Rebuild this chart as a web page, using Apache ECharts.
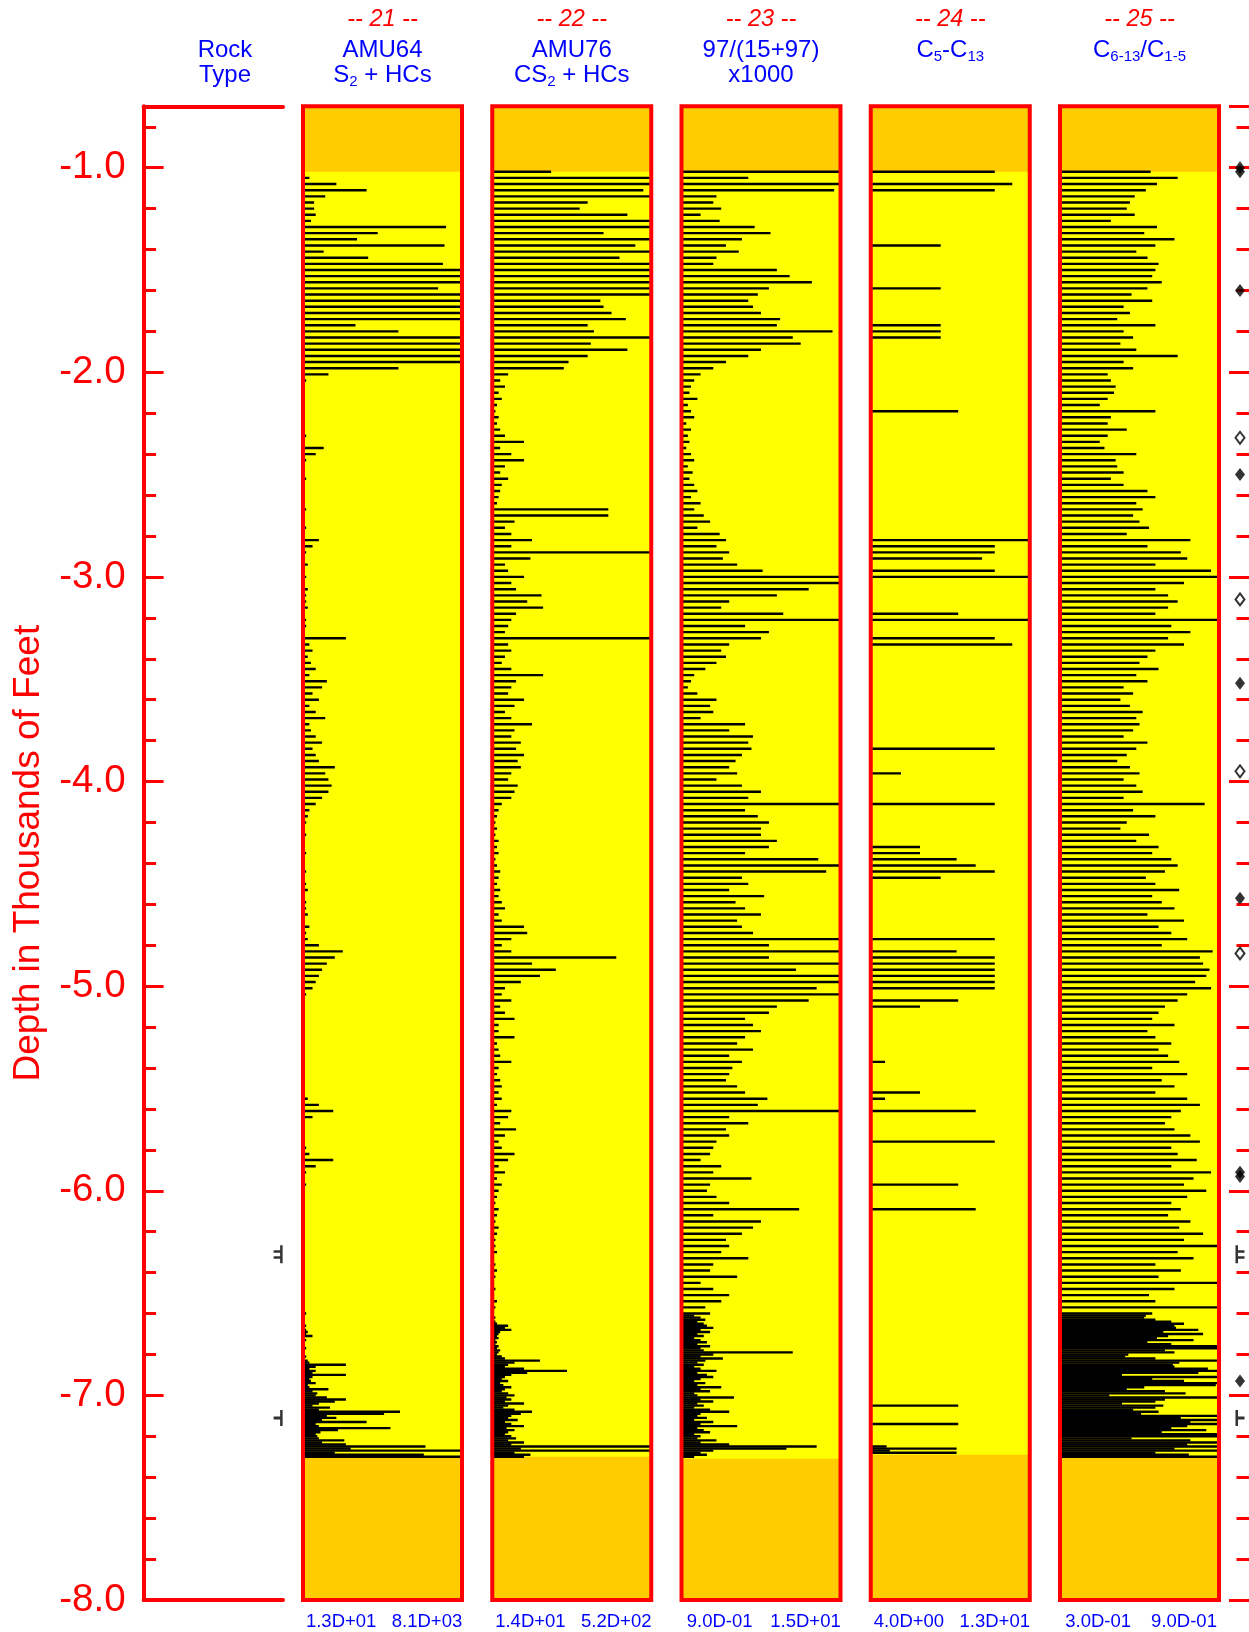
<!DOCTYPE html>
<html><head><meta charset="utf-8">
<script src="https://cdn.jsdelivr.net/npm/echarts@6/dist/echarts.min.js"></script>
<style>html,body{margin:0;padding:0;background:#fff}#c{width:1249px;height:1632px}</style>
</head><body><div id="c"></div>
<script>
// ---------------- DATA ----------------
// Sample depths (thousands of feet, negative = below surface)
const DEPTHS = [
-1.02,-1.05,-1.08,-1.11,-1.14,-1.17,-1.20,-1.23,-1.26,-1.29,
-1.32,-1.35,-1.38,-1.41,-1.44,-1.47,-1.50,-1.53,-1.56,-1.59,
-1.62,-1.65,-1.68,-1.71,-1.74,-1.77,-1.80,-1.83,-1.86,-1.89,
-1.92,-1.95,-1.98,-2.01,-2.04,-2.07,-2.10,-2.13,-2.16,-2.19,
-2.22,-2.25,-2.28,-2.31,-2.34,-2.37,-2.40,-2.43,-2.46,-2.49,
-2.52,-2.55,-2.58,-2.61,-2.64,-2.67,-2.70,-2.73,-2.76,-2.79,
-2.82,-2.85,-2.88,-2.91,-2.94,-2.97,-3.00,-3.03,-3.06,-3.09,
-3.12,-3.15,-3.18,-3.21,-3.24,-3.27,-3.30,-3.33,-3.36,-3.39,
-3.42,-3.45,-3.48,-3.51,-3.54,-3.57,-3.60,-3.63,-3.66,-3.69,
-3.72,-3.75,-3.78,-3.81,-3.84,-3.87,-3.90,-3.93,-3.96,-3.99,
-4.02,-4.05,-4.08,-4.11,-4.14,-4.17,-4.20,-4.23,-4.26,-4.29,
-4.32,-4.35,-4.38,-4.41,-4.44,-4.47,-4.50,-4.53,-4.56,-4.59,
-4.62,-4.65,-4.68,-4.71,-4.74,-4.77,-4.80,-4.83,-4.86,-4.89,
-4.92,-4.95,-4.98,-5.01,-5.04,-5.07,-5.10,-5.13,-5.16,-5.19,
-5.22,-5.25,-5.28,-5.31,-5.34,-5.37,-5.40,-5.43,-5.46,-5.49,
-5.52,-5.55,-5.58,-5.61,-5.64,-5.67,-5.70,-5.73,-5.76,-5.79,
-5.82,-5.85,-5.88,-5.91,-5.94,-5.97,-6.00,-6.03,-6.06,-6.09,
-6.12,-6.15,-6.18,-6.21,-6.24,-6.27,-6.30,-6.33,-6.36,-6.39,
-6.42,-6.45,-6.48,-6.51,-6.54,-6.57,-6.60,
-6.61,-6.62,-6.63,-6.64,-6.65,-6.66,-6.67,-6.68,-6.69,-6.70,
-6.71,-6.72,-6.73,-6.74,-6.75,-6.76,-6.77,-6.78,-6.79,-6.80,
-6.81,-6.82,-6.83,-6.84,-6.85,-6.86,-6.87,-6.88,-6.89,-6.90,
-6.91,-6.92,-6.93,-6.94,-6.95,-6.96,-6.97,-6.98,-6.99,-7.00,
-7.01,-7.02,-7.03,-7.04,-7.05,-7.06,-7.07,-7.08,-7.09,-7.10,
-7.11,-7.12,-7.13,-7.14,-7.15,-7.16,-7.17,-7.18,-7.19,-7.20,
-7.21,-7.22,-7.23,-7.24,-7.25,-7.26,-7.27,-7.28,-7.29,-7.30
];
// Track values, in percent of each track's scale (min label .. max label)
const T21 = [
1,4,21,40,14,7,7,8,5,90,
47,34,89,13,41,88,100,100,100,85,
99,100,100,100,100,33,60,100,100,100,
100,100,60,16,2,1,1,0,1,1,
1,0,1,2,1,13,8,2,1,1,
2,1,1,1,1,2,1,1,2,1,
10,6,2,1,3,1,2,1,3,2,
2,3,1,2,2,1,27,4,6,3,
5,8,4,15,12,6,10,4,8,14,
4,5,8,12,6,8,10,20,14,16,
18,16,12,8,4,3,2,1,2,1,
1,2,1,1,2,1,2,3,1,2,
2,3,1,4,2,3,10,25,20,15,
12,10,8,6,2,1,1,1,0,1,
1,1,0,1,1,1,0,1,1,1,
1,3,10,19,6,1,1,1,1,2,
4,19,8,2,1,2,1,1,1,0,
1,1,0,1,1,1,1,0,1,1,
1,1,1,0,1,1,2,
1,1,0,1,1,2,1,2,3,2,
6,1,2,1,1,1,2,1,1,1,
2,1,3,4,27,8,4,8,6,27,
6,4,5,8,3,4,16,6,9,8,
15,27,20,10,6,17,10,61,51,15,
21,12,40,8,10,55,22,11,8,9,
10,26,12,27,77,30,100,20,76,100
];
const T22 = [
37,100,100,95,100,60,55,85,100,100,
70,100,90,100,80,100,100,100,100,100,
100,68,70,75,84,60,64,100,62,85,
60,48,45,10,5,8,4,6,3,2,
4,3,5,8,20,5,12,20,8,5,
10,6,5,4,3,73,73,14,8,12,
25,12,100,24,8,10,20,12,15,31,
22,32,15,12,10,8,100,10,12,8,
6,12,32,15,12,10,20,14,8,12,
25,14,12,18,15,20,16,18,12,10,
16,14,12,6,4,3,2,3,2,4,
3,4,2,3,5,4,3,5,4,6,
8,4,6,20,22,12,6,12,78,25,
40,30,18,8,6,12,5,8,14,4,
4,14,3,4,5,12,4,3,5,6,
4,6,3,12,10,5,15,8,4,6,
14,10,4,8,3,6,4,3,2,4,
3,2,4,3,2,2,3,1,2,3,
2,1,2,1,3,2,1,
1,2,1,2,3,10,8,12,5,4,
3,4,2,3,2,4,3,5,4,3,
6,8,30,14,10,8,20,47,22,12,
8,6,10,5,7,12,8,6,10,14,
9,12,8,20,10,7,14,25,18,12,
10,16,8,12,20,9,14,10,8,12,
15,10,20,12,100,18,100,14,24,20
];
const T23 = [
100,42,100,96,22,20,25,12,24,46,
56,38,28,36,22,20,60,68,82,55,
48,42,45,50,62,60,95,70,75,50,
42,28,20,12,8,6,5,10,4,6,
8,3,6,4,5,3,6,8,4,7,
5,8,10,6,12,8,14,18,10,24,
28,22,30,26,35,51,100,100,80,60,
30,25,64,100,40,55,50,30,25,28,
22,15,8,6,4,10,22,18,20,12,
40,30,45,42,44,38,34,30,35,22,
38,50,42,100,40,48,55,50,50,60,
55,40,86,100,91,38,42,30,52,34,
40,50,35,38,45,100,55,100,55,100,
72,100,100,85,100,80,60,55,40,45,
50,40,35,45,30,38,32,30,28,35,
40,54,48,100,30,42,28,30,22,20,
18,12,25,20,44,18,16,22,30,74,
20,50,45,38,28,30,25,42,20,18,
35,12,20,30,25,15,18,
8,12,15,10,14,16,20,12,18,10,
14,8,12,16,10,18,12,14,70,20,
12,26,15,10,14,8,12,22,10,16,
20,12,8,15,10,25,12,18,8,10,
33,12,20,10,14,8,18,30,12,10,
16,8,20,12,35,10,14,18,8,12,
10,22,12,30,85,66,20,12,16,8
];
const T24 = [
78,0,89,78,0,0,0,0,0,0,
0,0,44,0,0,0,0,0,0,44,
0,0,0,0,0,44,44,44,0,0,
0,0,0,0,0,0,0,0,0,55,
0,0,0,0,0,0,0,0,0,0,
0,0,0,0,0,0,0,0,0,0,
100,78,78,70,0,78,100,0,0,0,
0,0,55,100,0,0,78,89,0,0,
0,0,0,0,0,0,0,0,0,0,
0,0,0,0,78,0,0,0,19,0,
0,0,0,78,0,0,0,0,0,0,
31,31,54,66,78,44,0,0,0,0,
0,0,0,0,0,78,0,54,78,78,
78,78,78,78,0,55,31,0,0,0,
0,0,0,0,0,9,0,0,0,0,
31,9,0,66,0,0,0,0,78,0,
0,0,0,0,0,55,0,0,0,66,
0,0,0,0,0,0,0,0,0,0,
0,0,0,0,0,0,0,
0,0,0,0,0,0,0,0,0,0,
0,0,0,0,0,0,0,0,0,0,
0,0,0,0,0,0,0,0,0,0,
0,0,0,0,0,0,0,0,0,0,
0,0,0,0,55,0,0,0,0,0,
0,0,0,55,0,0,0,0,0,0,
0,0,0,0,10,54,12,54,0,0
];
const T25 = [
57,74,61,54,47,44,42,47,32,61,
53,72,60,48,55,62,60,58,64,55,
45,58,40,44,36,60,40,46,38,48,
74,40,46,30,32,35,34,30,25,60,
32,30,42,30,25,28,48,35,36,40,
32,40,55,60,48,52,46,50,56,42,
82,55,76,80,60,95,100,78,60,68,
74,68,60,100,70,82,68,78,60,55,
50,62,48,55,40,46,38,44,52,48,
50,46,40,55,48,42,36,44,50,40,
48,52,40,91,46,60,42,38,56,48,
62,58,70,74,66,54,60,75,58,64,
72,55,78,62,70,80,64,96,88,90,
94,92,85,95,80,74,66,62,58,72,
55,60,70,62,68,75,58,80,64,72,
60,80,88,76,70,66,72,82,88,70,
74,86,70,95,84,78,92,80,70,76,
68,82,75,90,78,100,74,84,60,76,
62,100,72,56,60,100,58,
54,53,60,70,78,72,73,87,65,90,
68,61,84,55,70,100,100,66,72,43,
41,60,100,75,71,72,93,100,87,39,
100,58,78,100,98,53,42,66,79,31,
100,66,60,39,65,60,46,62,51,100,
76,100,82,100,80,70,92,64,100,100,
45,82,100,80,100,72,100,60,81,100
];
const TRACKS = [T21, T22, T23, T24, T25];
const TRACK_NUMBERS = ['-- 21 --', '-- 22 --', '-- 23 --', '-- 24 --', '-- 25 --'];
const TITLE_LINE1 = ['{m|AMU64}', '{m|AMU76}', '{m|97/(15+97)}', '{m|C}{s|5}{m|-C}{s|13}', '{m|C}{s|6-13}{m|/C}{s|1-5}'];
const TITLE_LINE2 = ['{m|S}{s|2}{m| + HCs}', '{m|CS}{s|2}{m| + HCs}', '{m|x1000}', '', ''];
const SCALE_LABELS = [['1.3D+01','8.1D+03'], ['1.4D+01','5.2D+02'], ['9.0D-01','1.5D+01'], ['4.0D+00','1.3D+01'], ['3.0D-01','9.0D-01']];
const YELLOW_TOP = [-1.02, -1.02, -1.02, -1.02, -1.02];
const YELLOW_BOTTOM = [-7.30, -7.30, -7.31, -7.29, -7.30];
const DEPTH_MIN = -8.0, DEPTH_MAX = -0.7;
const ROCK_MARKER_DEPTHS = [-6.31, -7.11];
const ROCK_MARKER_TYPES = ['double', 'single'];
const RIGHT_MARKER_DEPTHS = [-1.00, -1.02, -1.60, -2.32, -2.50, -3.11, -3.52, -3.95, -4.57, -4.84, -5.91, -5.93, -6.31, -6.93, -7.11];
const RIGHT_MARKER_TYPES = ['filled','filled','filled','hollow','filled','hollow','filled','hollow','filled','hollow','filled','filled','double','filled','single'];

// ---------------- LAYOUT ----------------
const FONT = '"Liberation Sans", Arial, Helvetica, sans-serif';
const RED = '#FF0000', BLUE = '#0000FF';
const GT = 106.3, GH = 1493.7;
const TRACK_LEFTS = [303, 492.25, 681.5, 870.75, 1060];
const TRACK_W = 159;
const BAR_H = 2.4;

const grids = [{left:143.6, top:GT, width:139.4, height:GH}];
TRACK_LEFTS.forEach(l => grids.push({left:l, top:GT, width:TRACK_W, height:GH, show:true, backgroundColor:'#FFCC00', borderWidth:0}));
grids.push({left:1237, top:GT, width:20, height:GH});

const lineAxis = (pos) => ({gridIndex:0, type:'value', min:0, max:1, position:pos,
  axisLine:{show:true, lineStyle:{color:RED, width:4}}, axisTick:{show:false}, axisLabel:{show:false}, splitLine:{show:false}, z:5});
const xAxes = [lineAxis('bottom'), lineAxis('top')];
TRACK_LEFTS.forEach((l, k) => xAxes.push({
  gridIndex:k+1, type:'value', min:0, max:100,
  axisLine:{show:false}, axisTick:{show:false}, splitLine:{show:false},
  axisLabel:{show:true, customValues:[24, 78], formatter:(v) => v < 50 ? SCALE_LABELS[k][0] : SCALE_LABELS[k][1],
    color:BLUE, fontSize:18.5, fontFamily:FONT, margin:12}
}));
xAxes.push({gridIndex:6, type:'value', min:0, max:1, show:false});

const depthAxis = (grid, pos, interval, len, showLine, labels) => ({
  gridIndex:grid, type:'value', min:DEPTH_MIN, max:DEPTH_MAX, interval:interval, position:pos,
  axisLine:{show:showLine, onZero:false, lineStyle:{color:RED, width:4}},
  axisTick:{show:true, inside:true, length:len, lineStyle:{color:RED, width:3}},
  axisLabel: labels ? {show:true, color:RED, fontSize:38.5, fontFamily:FONT, margin:18,
      formatter:(v) => Math.abs(v - Math.round(v)) < 1e-6 ? v.toFixed(1) : ''} : {show:false},
  splitLine:{show:false}, z:5
});
const yAxes = [
  depthAxis(0, 'left', 0.2, 12.5, true, false),
  Object.assign(depthAxis(0, 'left', 1, 20, false, true), {
    name:'Depth in Thousands of Feet', nameLocation:'middle', nameRotate:90, nameGap:96,
    nameTextStyle:{color:RED, fontSize:37, fontFamily:FONT}
  })
];
TRACK_LEFTS.forEach((l, k) => yAxes.push({gridIndex:k+1, type:'value', min:DEPTH_MIN, max:DEPTH_MAX, show:false}));
yAxes.push(depthAxis(6, 'right', 0.2, 12.5, false, false));
yAxes.push(depthAxis(6, 'right', 1, 20, false, false));

const series = [];
TRACKS.forEach((vals, k) => {
  series.push({
    type:'custom', xAxisIndex:k+2, yAxisIndex:k+2, silent:true, z:1,
    data:[[YELLOW_TOP[k], YELLOW_BOTTOM[k]]],
    renderItem:(p, api) => {
      const a = api.coord([0, api.value(0)]), b = api.coord([100, api.value(1)]);
      return {type:'rect', shape:{x:a[0], y:a[1], width:b[0]-a[0], height:b[1]-a[1]}, style:{fill:'#FFFF00'}};
    }
  });
  series.push({
    type:'custom', xAxisIndex:k+2, yAxisIndex:k+2, silent:true, z:2, clip:true,
    encode:{x:0, y:1},
    data:DEPTHS.map((d, i) => [vals[i], d]),
    renderItem:(p, api) => {
      const v = api.value(0), d = api.value(1);
      if (!(v > 0)) return null;
      const a = api.coord([0, d]), b = api.coord([Math.min(v, 100), d]);
      return {type:'rect', shape:{x:a[0], y:a[1]-BAR_H/2, width:b[0]-a[0], height:BAR_H}, style:{fill:'#000'}};
    }
  });
});
const SYM = {
  double:'path://M6.5,0h2.5v18h-2.5z M0,5h9v2.5h-9z M0,11h9v2.5h-9z',
  single:'path://M6.5,0h2.5v16h-2.5z M0,6.5h9v3h-9z',
  doubleR:'path://M0,0h2.5v18h-2.5z M0,5h9v2.5h-9z M0,11h9v2.5h-9z',
  singleR:'path://M0,0h2.5v16h-2.5z M0,6.5h9v3h-9z'
};
series.push({
  type:'scatter', xAxisIndex:0, yAxisIndex:0, silent:true, z:6,
  data:ROCK_MARKER_DEPTHS.map((d, i) => ({value:[0.965, d], symbol:SYM[ROCK_MARKER_TYPES[i]],
    symbolSize: ROCK_MARKER_TYPES[i] === 'double' ? [9,18] : [9,16]})),
  itemStyle:{color:'#000'}
});
series.push({
  type:'scatter', xAxisIndex:7, yAxisIndex:7, silent:true, z:6,
  data:RIGHT_MARKER_DEPTHS.map((d, i) => {
    const t = RIGHT_MARKER_TYPES[i];
    if (t === 'filled') return {value:[0.25, d], symbol:'diamond', symbolSize:[10,13], itemStyle:{color:'#000'}};
    if (t === 'hollow') return {value:[0.25, d], symbol:'diamond', symbolSize:[9,12], itemStyle:{color:'#fff', borderColor:'#000', borderWidth:2}};
    return {value:[0.25, d], symbol:SYM[t + 'R'], symbolSize: t === 'double' ? [9,18] : [9,16], itemStyle:{color:'#000'}};
  })
});

// ---------------- TEXT / FRAMES ----------------
const rich = {
  m:{fontSize:24, fontFamily:FONT, fill:BLUE, lineHeight:24, verticalAlign:'top'},
  s:{fontSize:15, fontFamily:FONT, fill:BLUE, lineHeight:15, padding:[11,0,0,0], verticalAlign:'top'},
  n:{fontSize:23.5, fontFamily:FONT, fill:RED, fontStyle:'italic', lineHeight:24, verticalAlign:'top'}
};
const graphic = [];
const txt = (x, y, text) => ({type:'text', x:x, y:y, z:50, silent:true,
  style:{text:text, rich:rich, align:'center', verticalAlign:'top', fill:BLUE, fontSize:24, fontFamily:FONT}});
graphic.push(txt(225, 38.5, '{m|Rock}'));
graphic.push(txt(225, 63.5, '{m|Type}'));
TRACK_LEFTS.forEach((l, k) => {
  const cx = l + TRACK_W / 2;
  graphic.push(txt(cx, 7.5, '{n|' + TRACK_NUMBERS[k] + '}'));
  graphic.push(txt(cx, 38.5, TITLE_LINE1[k]));
  if (TITLE_LINE2[k]) graphic.push(txt(cx, 63.5, TITLE_LINE2[k]));
  graphic.push({type:'rect', z:40, silent:true, shape:{x:l, y:GT, width:TRACK_W, height:GH},
    style:{fill:null, stroke:RED, lineWidth:4}});
});

const chart = echarts.init(document.getElementById('c'), null, {renderer:'canvas', width:1249, height:1632});
chart.setOption({
  animation:false,
  backgroundColor:'#fff',
  grid:grids, xAxis:xAxes, yAxis:yAxes, series:series, graphic:graphic
});
</script>
</body></html>
